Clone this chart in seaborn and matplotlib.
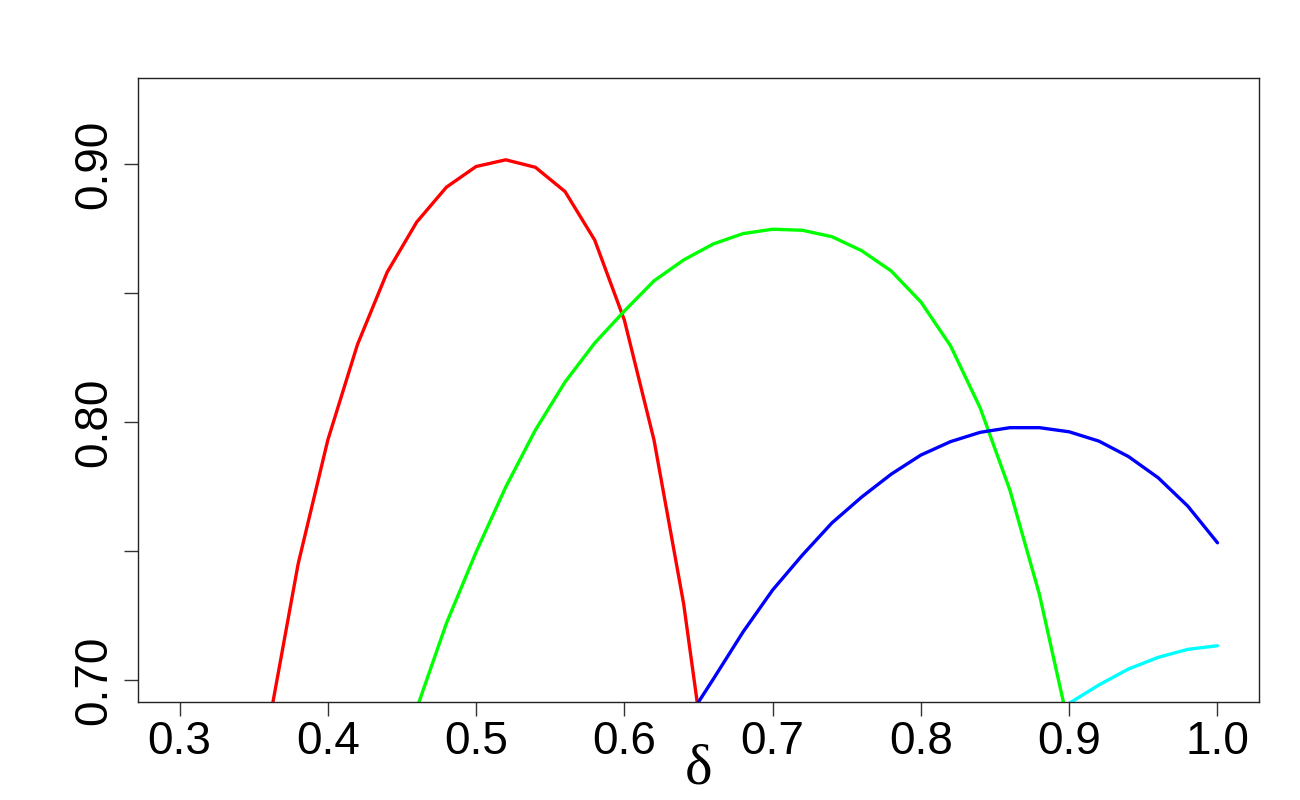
import numpy as np
import pandas as pd
import seaborn as sns
import matplotlib.pyplot as plt

# ---------------- data (step 0.02 in delta)
red_x = [0.34, 0.36, 0.38, 0.40, 0.42, 0.44, 0.46, 0.48, 0.50, 0.52, 0.54, 0.56, 0.58, 0.60, 0.62, 0.64, 0.66, 0.68]
red_y = [0.600, 0.682, 0.745, 0.793, 0.830, 0.858, 0.8775, 0.891, 0.899, 0.9016, 0.8987, 0.8893, 0.8705, 0.8395, 0.793, 0.7295, 0.646, 0.55]

green_x = [0.44, 0.46, 0.48, 0.50, 0.52, 0.54, 0.56, 0.58, 0.60, 0.62, 0.64, 0.66, 0.68, 0.70, 0.72, 0.74, 0.76, 0.78, 0.80, 0.82, 0.84, 0.86, 0.88, 0.90, 0.92]
green_y = [0.640, 0.689, 0.722, 0.7496, 0.7748, 0.7969, 0.8155, 0.8306, 0.843, 0.8547, 0.8628, 0.869, 0.873, 0.8747, 0.8743, 0.8718, 0.8664, 0.8585, 0.8465, 0.8295, 0.8054, 0.7736, 0.733, 0.6814, 0.60]

blue_x = [0.64, 0.66, 0.68, 0.70, 0.72, 0.74, 0.76, 0.78, 0.80, 0.82, 0.84, 0.86, 0.88, 0.90, 0.92, 0.94, 0.96, 0.98, 1.00]
blue_y = [0.6826, 0.7004, 0.7186, 0.7349, 0.7484, 0.7609, 0.7709, 0.7798, 0.7872, 0.7924, 0.796, 0.7978, 0.7978, 0.7962, 0.7926, 0.7866, 0.7784, 0.7674, 0.7532]

cyan_x = [0.90, 0.92, 0.94, 0.96, 0.98, 1.00]
cyan_y = [0.6910, 0.6981, 0.7043, 0.7088, 0.7119, 0.7133]

x_ticks = [0.3, 0.4, 0.5, 0.6, 0.7, 0.8, 0.9, 1.0]
y_ticks = [0.70, 0.75, 0.80, 0.85, 0.90]
y_labels = ["0.70", "", "0.80", "", "0.90"]

sns.set_style("white")
plt.rcParams['font.family'] = ['Liberation Sans', 'DejaVu Sans']

fig = plt.figure(figsize=(13, 8), dpi=100)
ax = fig.add_axes([138 / 1300, 1 - 702 / 800, (1259 - 138) / 1300, (702 - 78) / 800])

for xs, ys, col in [(red_x, red_y, "#FF0000"), (green_x, green_y, "#00FF00"),
                    (blue_x, blue_y, "#0000FF"), (cyan_x, cyan_y, "#00FFFF")]:
    sns.lineplot(x=xs, y=ys, color=col, linewidth=2.4, ax=ax, sort=False)

ax.set_xlim(0.272, 1.028)
ax.set_ylim(0.6915, 0.9333)
ax.set_xticks(x_ticks)
ax.set_xticklabels([str(v) for v in x_ticks])
ax.set_yticks(y_ticks)
ax.set_yticklabels(y_labels, rotation=90, va="center")

ax.tick_params(axis="both", direction="out", length=10, width=1, color="#333333",
               labelsize=33, labelcolor="black", bottom=True, left=True)
ax.tick_params(axis="x", pad=3)
ax.tick_params(axis="y", pad=6)

for sp in ax.spines.values():
    sp.set_visible(True)
    sp.set_color("#222222")
    sp.set_linewidth(1.0)

ax.set_xlabel("δ", fontsize=42, color="black",
              family=["Liberation Serif", "DejaVu Serif"], labelpad=-15)

plt.savefig("out.png", dpi=100)
